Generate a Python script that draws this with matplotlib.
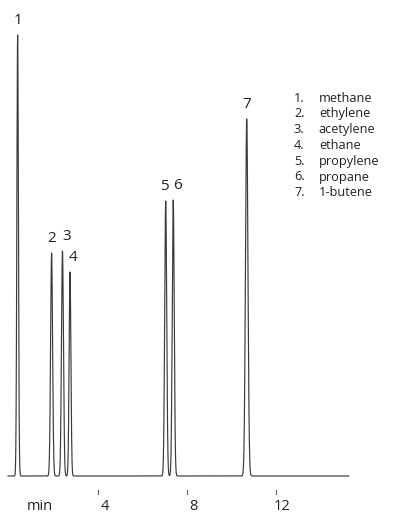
import matplotlib.pyplot as plt
import numpy as np

# peak table
peak_ids = ["1", "2", "3", "4", "5", "6", "7"]
compounds = ["methane", "ethylene", "acetylene", "ethane", "propylene", "propane", "1-butene"]
ret_times = [0.38, 1.91, 2.40, 2.74, 7.05, 7.39, 10.70]   # min
heights = [441, 223, 225, 204, 275, 276, 357]
widths = [0.035, 0.045, 0.045, 0.04, 0.045, 0.045, 0.055]

tick_vals = [4, 8, 12]
t_start, t_end = -0.05, 15.3

fig = plt.figure(figsize=(4.07, 5.14), dpi=100)
ax = fig.add_axes([0, 0, 1, 1])

t = np.linspace(t_start, t_end, 8000)
signal = np.zeros_like(t)
for rt, h, w in zip(ret_times, heights, widths):
    signal += h * np.exp(-0.5 * ((t - rt) / w) ** 2)

ax.plot(t, signal, color="#3a3a3a", lw=0.85)

# peak numbers (nudged sideways where peaks crowd together)
nudge = [0, 0, 0.18, 0.14, -0.05, 0.2, 0]
for pid, rt, h, dx in zip(peak_ids, ret_times, heights, nudge):
    ax.text(rt + dx, h + 7, pid, ha="center", va="bottom", fontsize=11,
            family="Open Sans", color="#222222")

# time axis: small ticks with labels offset to the right
for tv in tick_vals:
    ax.plot([tv, tv], [-14, -18], color="#555555", lw=0.7)
    ax.text(tv + 0.3, -31, str(tv), ha="center", va="center", fontsize=10.5,
            family="Open Sans", color="#222222")
ax.text(1.4, -31, "min", ha="center", va="center", fontsize=10.5,
        family="Open Sans", color="#222222")

# compound list
for i, (pid, name) in enumerate(zip(peak_ids, compounds)):
    y = 378 - i * 15.8
    ax.text(13.3, y, pid + ".", ha="right", va="center", fontsize=9.2,
            family="Open Sans", color="#222222")
    ax.text(13.95, y, name, ha="left", va="center", fontsize=9.2,
            family="Open Sans", color="#222222")

ax.set_xlim(-0.414, 17.92)
ax.set_ylim(-38, 476)
ax.axis("off")

plt.savefig("out.png", dpi=100)
